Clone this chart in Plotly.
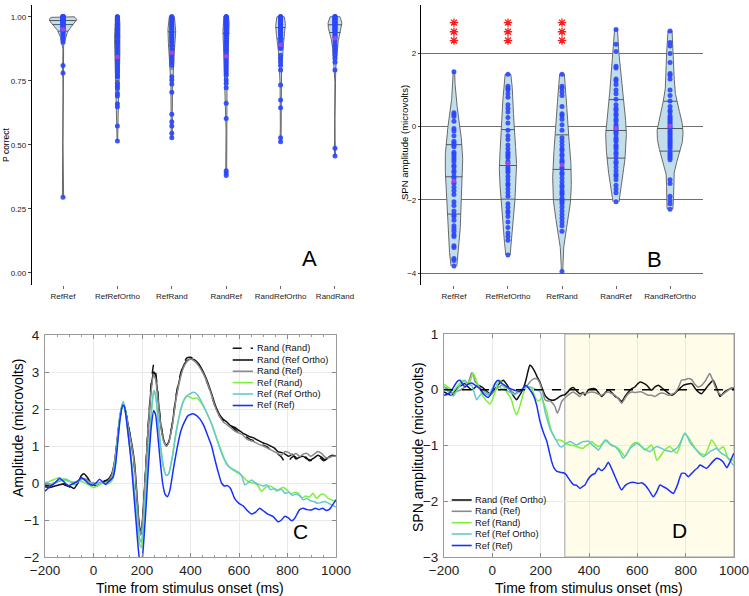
import numpy as np
import plotly.graph_objects as go

W, H = 749, 596
def px(x): return x / W
def py(y): return 1 - y / H

FONT = "Liberation Sans, Arial, sans-serif"

# ---------------- Panel A data (proportion correct) ----------------
CATS_A = ["RefRef", "RefRefOrtho", "RefRand", "RandRef", "RandRefOrtho", "RandRand"]
PC_REFREF = [1.0]*10 + [0.99]*8 + [0.98]*7 + [0.97]*5 + [0.96]*4 + [0.95]*3 + [0.94]*2 + [0.93]*2 + [0.92, 0.91, 0.90, 0.81, 0.78, 0.295]
PC_REFREFORTHO = [1.0, 1.0, 0.99, 0.99, 0.98, 0.97, 0.97, 0.96, 0.95, 0.95, 0.94, 0.93, 0.93, 0.92, 0.91, 0.90, 0.90, 0.89, 0.88, 0.87,
                  0.86, 0.85, 0.84, 0.83, 0.82, 0.81, 0.80, 0.79, 0.78, 0.77, 0.765, 0.74, 0.73, 0.72, 0.70, 0.69, 0.66, 0.648, 0.573, 0.515]
PC_REFRAND = [1.0, 1.0, 0.99, 0.99, 0.98, 0.98, 0.97, 0.97, 0.96, 0.96, 0.95, 0.95, 0.94, 0.94, 0.93, 0.93, 0.92, 0.92, 0.91, 0.91,
              0.90, 0.90, 0.89, 0.88, 0.87, 0.86, 0.85, 0.84, 0.83, 0.82, 0.81, 0.766, 0.753, 0.737, 0.705, 0.619, 0.59, 0.573, 0.545, 0.527]
PC_RANDREF = [1.0, 1.0, 1.0, 0.99, 0.99, 0.98, 0.98, 0.97, 0.97, 0.96, 0.96, 0.95, 0.95, 0.94, 0.94, 0.93, 0.93, 0.92, 0.91, 0.90,
              0.90, 0.89, 0.88, 0.87, 0.86, 0.85, 0.84, 0.83, 0.82, 0.81, 0.80, 0.79, 0.78, 0.772, 0.753, 0.74, 0.723, 0.662, 0.603,
              0.398, 0.39, 0.38]
PC_RANDREFORTHO = [1.0, 1.0, 1.0, 0.99, 0.99, 0.99, 0.98, 0.98, 0.98, 0.97, 0.97, 0.97, 0.96, 0.96, 0.96, 0.95, 0.95, 0.94, 0.94,
                   0.93, 0.93, 0.92, 0.91, 0.90, 0.89, 0.88, 0.876, 0.85, 0.837, 0.824, 0.811, 0.792, 0.733, 0.675, 0.645, 0.527, 0.512]
PC_RANDRAND = [1.0]*4 + [0.99]*4 + [0.98]*4 + [0.97]*4 + [0.96]*3 + [0.95]*3 + [0.94]*3 + [0.93, 0.93, 0.92, 0.92, 0.91, 0.90, 0.89,
               0.88, 0.87, 0.86, 0.85, 0.837, 0.822, 0.792, 0.486, 0.456]
GROUPS_A = [PC_REFREF, PC_REFREFORTHO, PC_REFRAND, PC_RANDREF, PC_RANDREFORTHO, PC_RANDRAND]
TICKS_A = [0.0, 0.25, 0.5, 0.75, 1.0]

# ---------------- Panel B data (SPN amplitude) ----------------
CATS_B = ["RefRef", "RefRefOrtho", "RefRand", "RandRef", "RandRefOrtho"]
SPN_REFREF = [1.5, 0.38, 0.33, 0.28, 0.15, -0.05, -0.12, -0.25, -0.4, -0.45, -0.5, -0.55, -0.7, -0.75, -0.82, -0.88, -0.95, -1.05,
              -1.1, -1.2, -1.25, -1.35, -1.4, -1.5, -1.55, -1.65, -1.75, -1.85, -2.05, -2.15, -2.3, -2.4, -2.45, -2.55, -2.7, -2.78,
              -2.85, -2.95, -3.0, -3.25, -3.3, -3.6, -3.65, -3.8]
SPN_REFREFORTHO = [1.43, 1.1, 1.05, 1.0, 0.9, 0.8, 0.6, 0.5, 0.4, 0.25, 0.1, -0.1, -0.25, -0.35, -0.5, -0.6, -0.7, -0.75, -0.8,
                   -0.85, -0.95, -1.0, -1.1, -1.15, -1.2, -1.25, -1.35, -1.45, -1.55, -1.6, -1.7, -1.8, -1.9, -2.1, -2.2, -2.3,
                   -2.35, -2.45, -2.6, -2.75, -2.9, -3.0, -3.1, -3.5]
SPN_REFRAND = [1.43, 1.1, 1.05, 0.95, 0.85, 0.55, 0.35, 0.3, 0.2, 0.05, -0.1, -0.3, -0.4, -0.5, -0.6, -0.65, -0.75, -0.8, -0.9,
               -0.95, -1.0, -1.1, -1.15, -1.25, -1.3, -1.4, -1.5, -1.6, -1.65, -1.75, -1.8, -1.85, -1.95, -2.0, -2.05, -2.1, -2.2,
               -2.3, -2.4, -2.5, -2.6, -2.7, -2.85, -3.95]
SPN_RANDREF = [2.65, 2.25, 2.05, 1.65, 1.6, 1.3, 1.25, 1.15, 1.0, 0.9, 0.75, 0.6, 0.5, 0.45, 0.35, 0.3, 0.2, 0.15, 0.05, 0.0, -0.05,
               -0.1, -0.15, -0.2, -0.3, -0.35, -0.4, -0.5, -0.55, -0.6, -0.7, -0.75, -0.85, -0.95, -1.0, -1.1, -1.2, -1.3, -1.35,
               -1.45, -1.6, -1.7, -1.8, -2.05]
SPN_RANDREFORTHO = [2.61, 2.3, 2.2, 2.0, 1.75, 1.45, 1.4, 1.3, 1.0, 0.85, 0.7, 0.55, 0.45, 0.4, 0.3, 0.25, 0.2, 0.15, 0.1, 0.05, 0.0,
                    -0.03, -0.1, -0.15, -0.2, -0.25, -0.3, -0.35, -0.4, -0.45, -0.5, -0.55, -0.6, -0.7, -0.75, -0.8, -0.85, -0.9,
                    -1.45, -1.55, -1.9, -2.0, -2.1, -2.25]
GROUPS_B = [SPN_REFREF, SPN_REFREFORTHO, SPN_REFRAND, SPN_RANDREF, SPN_RANDREFORTHO]
TICKS_B = [-4, -2, 0, 2]
STAR_CATS = [0, 1, 2]
STAR_Y = [2.35, 2.59, 2.84]

# ---------------- Panel C data (ERP waves) ----------------
C_RANDRAND_T = [-200, -180, -160, -140, -120, -100, -85, -70, -55, -45, -30, -15, 0, 15, 30, 45, 60, 75, 85, 95, 105, 115, 123, 132, 145, 158, 170, 180, 188, 195, 202, 212, 225, 238, 248, 256, 265, 275, 288, 300, 310, 325, 340, 355, 370, 385, 400, 415, 430, 445, 460, 475, 490, 505, 520, 535, 550, 565, 583, 600, 615, 630, 645, 660, 680, 700, 715, 730, 745, 760, 775, 790, 800, 815, 830, 845, 860, 875, 890, 905, 920, 935, 950, 965, 980, 1000]
C_RANDRAND_V = [-0.05, -0.08, -0.02, 0.0, -0.05, -0.1, -0.18, -0.05, 0.1, 0.22, 0.12, 0.0, -0.05, -0.05, 0.0, 0.05, 0.08, 0.2, 0.45, 0.95, 1.55, 2.0, 2.12, 1.95, 1.5, 1.0, 0.35, -0.5, -1.2, -1.4, -1.05, 0.0, 1.5, 2.7, 3.2, 3.0, 2.45, 1.75, 1.2, 1.0, 1.1, 1.6, 2.35, 2.85, 3.2, 3.38, 3.4, 3.35, 3.25, 3.08, 2.85, 2.6, 2.3, 2.0, 1.8, 1.7, 1.62, 1.55, 1.45, 1.35, 1.3, 1.25, 1.18, 1.15, 1.1, 1.02, 0.98, 0.9, 0.82, 0.78, 0.7, 0.55, 0.55, 0.68, 0.72, 0.62, 0.65, 0.7, 0.6, 0.62, 0.7, 0.68, 0.6, 0.68, 0.72, 0.72]
C_RANDORTHO_T = [-200, -180, -160, -140, -120, -100, -80, -65, -50, -40, -25, -10, 0, 15, 30, 45, 60, 75, 85, 95, 105, 115, 123, 132, 145, 158, 170, 180, 188, 195, 202, 212, 225, 238, 248, 256, 265, 275, 288, 300, 310, 325, 340, 355, 370, 385, 400, 415, 430, 445, 460, 475, 490, 505, 520, 535, 550, 565, 583, 600, 615, 630, 645, 660, 680, 700, 715, 730, 745, 760, 775, 790, 805, 820, 835, 850, 865, 880, 895, 910, 925, 940, 955, 970, 985, 1000]
C_RANDORTHO_V = [-0.1, -0.12, -0.08, -0.05, -0.02, -0.08, -0.15, 0.0, 0.2, 0.25, 0.15, 0.0, -0.05, -0.08, 0.0, 0.05, 0.1, 0.25, 0.5, 1.0, 1.6, 2.0, 2.1, 1.95, 1.5, 1.05, 0.5, -0.4, -1.1, -1.35, -1.0, 0.0, 1.4, 2.6, 3.0, 2.9, 2.4, 1.7, 1.2, 1.02, 1.1, 1.6, 2.3, 2.8, 3.15, 3.3, 3.35, 3.33, 3.25, 3.1, 2.9, 2.65, 2.35, 2.05, 1.85, 1.72, 1.65, 1.55, 1.5, 1.42, 1.35, 1.3, 1.25, 1.22, 1.15, 1.08, 1.05, 1.0, 0.95, 0.85, 0.82, 0.78, 0.72, 0.78, 0.65, 0.7, 0.72, 0.65, 0.62, 0.68, 0.75, 0.7, 0.62, 0.7, 0.75, 0.72]
C_RANDREF_T = [-200, -180, -160, -140, -120, -100, -80, -60, -45, -30, -15, 0, 15, 30, 45, 60, 75, 85, 95, 105, 115, 123, 132, 145, 158, 170, 180, 188, 195, 202, 212, 225, 238, 248, 256, 265, 275, 288, 300, 310, 325, 340, 355, 370, 385, 400, 415, 430, 445, 460, 475, 490, 505, 520, 535, 550, 565, 583, 600, 615, 630, 645, 660, 680, 700, 715, 730, 745, 760, 775, 790, 805, 820, 835, 850, 865, 880, 895, 910, 925, 940, 955, 970, 985, 1000]
C_RANDREF_V = [0.0, -0.05, 0.0, 0.05, 0.1, 0.05, 0.0, 0.05, 0.12, 0.1, 0.02, 0.0, -0.02, 0.02, 0.0, 0.05, 0.2, 0.5, 1.0, 1.6, 2.0, 2.12, 1.95, 1.45, 1.0, 0.4, -0.5, -1.2, -1.4, -1.05, 0.0, 1.4, 2.5, 2.92, 2.8, 2.3, 1.65, 1.15, 1.0, 1.08, 1.55, 2.25, 2.75, 3.1, 3.28, 3.35, 3.3, 3.2, 3.05, 2.85, 2.6, 2.3, 2.0, 1.8, 1.65, 1.58, 1.5, 1.4, 1.35, 1.3, 1.2, 1.15, 1.12, 1.05, 1.0, 0.95, 0.9, 0.85, 0.8, 0.75, 0.85, 0.82, 0.75, 0.8, 0.72, 0.78, 0.8, 0.72, 0.78, 0.85, 0.8, 0.7, 0.68, 0.72, 0.72]
C_REFRAND_T = [-200, -180, -160, -140, -120, -100, -80, -60, -40, -20, 0, 15, 30, 45, 60, 75, 85, 95, 105, 115, 123, 132, 145, 158, 170, 180, 190, 197, 205, 215, 228, 240, 248, 256, 265, 275, 288, 300, 310, 325, 340, 355, 370, 385, 395, 410, 425, 440, 455, 470, 487, 500, 514, 528, 542, 556, 570, 583, 600, 615, 630, 645, 660, 675, 693, 710, 725, 740, 755, 770, 785, 800, 815, 830, 845, 860, 875, 890, 905, 920, 935, 950, 965, 980, 1000]
C_REFRAND_V = [0.0, 0.05, 0.1, 0.15, 0.08, 0.05, 0.03, 0.05, 0.02, -0.05, -0.12, -0.08, -0.02, 0.0, -0.02, 0.05, 0.25, 0.8, 1.5, 2.0, 2.15, 1.9, 1.2, 0.5, -0.3, -1.1, -1.65, -1.75, -1.3, -0.3, 0.9, 2.0, 2.45, 2.35, 1.8, 1.1, 0.45, 0.2, 0.25, 0.7, 1.35, 1.85, 2.2, 2.35, 2.33, 2.28, 2.3, 2.2, 2.05, 1.85, 1.6, 1.35, 1.1, 0.85, 0.62, 0.47, 0.38, 0.32, 0.25, 0.18, 0.08, 0.02, 0.0, -0.05, -0.22, -0.12, -0.08, -0.12, -0.22, -0.15, -0.12, -0.2, -0.3, -0.25, -0.28, -0.4, -0.35, -0.38, -0.28, -0.42, -0.32, -0.3, -0.4, -0.45, -0.5]
C_REFORTHO_T = [-200, -180, -160, -145, -130, -110, -95, -80, -60, -45, -30, -15, 0, 15, 30, 45, 60, 75, 85, 95, 105, 115, 123, 132, 145, 158, 170, 180, 190, 197, 205, 215, 228, 240, 248, 256, 265, 275, 288, 300, 310, 325, 340, 355, 370, 385, 400, 415, 430, 445, 460, 475, 490, 505, 520, 535, 550, 565, 583, 600, 612, 624, 640, 652, 668, 685, 700, 715, 730, 745, 760, 775, 790, 805, 820, 835, 850, 865, 880, 895, 910, 925, 940, 955, 970, 985, 1000]
C_REFORTHO_V = [0.02, -0.02, 0.0, 0.05, 0.08, 0.1, 0.02, -0.05, 0.05, 0.1, 0.05, 0.0, -0.05, -0.02, 0.0, -0.02, 0.02, 0.1, 0.35, 0.9, 1.6, 2.05, 2.2, 1.95, 1.25, 0.5, -0.3, -1.0, -1.5, -1.6, -1.2, -0.2, 1.0, 2.05, 2.5, 2.4, 1.85, 1.1, 0.45, 0.2, 0.25, 0.7, 1.35, 1.85, 2.2, 2.35, 2.42, 2.45, 2.37, 2.2, 2.0, 1.78, 1.55, 1.25, 0.95, 0.7, 0.5, 0.4, 0.35, 0.28, 0.18, -0.05, 0.02, 0.08, 0.0, -0.05, -0.08, -0.05, -0.18, -0.15, -0.2, -0.17, -0.28, -0.25, -0.33, -0.3, -0.35, -0.45, -0.42, -0.48, -0.5, -0.55, -0.52, -0.5, -0.55, -0.6, -0.65]
C_REFREF_T = [-200, -180, -160, -140, -120, -105, -85, -65, -50, -35, -20, -5, 10, 25, 40, 50, 65, 80, 90, 100, 110, 120, 127, 135, 145, 155, 165, 175, 185, 193, 200, 208, 218, 228, 238, 248, 256, 265, 275, 285, 295, 305, 315, 330, 345, 360, 375, 390, 410, 425, 440, 455, 470, 487, 500, 514, 528, 540, 552, 565, 583, 600, 617, 635, 652, 670, 685, 700, 721, 740, 762, 775, 789, 805, 817, 830, 850, 865, 880, 899, 915, 930, 945, 960, 975, 990, 1000]
C_REFREF_V = [-0.22, -0.1, 0.0, 0.12, 0.02, -0.08, -0.02, 0.05, 0.14, 0.08, -0.02, -0.06, 0.0, 0.1, 0.02, -0.04, 0.05, 0.15, 0.45, 1.1, 1.75, 2.1, 2.08, 1.75, 1.2, 0.6, -0.2, -1.0, -1.8, -2.2, -2.1, -1.5, -0.5, 0.6, 1.5, 1.95, 1.85, 1.3, 0.6, 0.0, -0.3, -0.37, -0.2, 0.4, 0.95, 1.4, 1.65, 1.82, 1.87, 1.82, 1.72, 1.55, 1.3, 1.0, 0.65, 0.3, 0.0, -0.08, -0.07, -0.15, -0.43, -0.55, -0.62, -0.75, -0.84, -0.78, -0.68, -0.75, -0.85, -0.9, -1.05, -1.0, -0.9, -0.95, -1.02, -0.95, -0.72, -0.68, -0.72, -0.73, -0.68, -0.72, -0.68, -0.74, -0.7, -0.55, -0.45]

# ---------------- Panel D data (difference waves) ----------------
D_REFREF_T = [-200, -185, -175, -160, -145, -134, -120, -113, -100, -86, -70, -51, -35, -17, 0, 12, 24, 38, 52, 70, 86, 100, 114, 128, 139, 150, 162, 172, 183, 197, 210, 225, 235, 245, 255, 266, 280, 294, 305, 314, 325, 335, 350, 362, 372, 383, 397, 411, 425, 439, 452, 466, 480, 494, 508, 520, 535, 549, 563, 583, 604, 618, 632, 648, 666, 680, 694, 708, 721, 735, 749, 765, 783, 797, 811, 825, 838, 850, 859, 873, 887, 900, 914, 928, 942, 956, 970, 983, 997, 1000]
D_REFREF_V = [-0.1, -0.08, -0.05, 0.05, 0.15, 0.17, 0.08, 0.05, 0.1, 0.12, 0.08, 0.02, -0.08, -0.14, -0.02, 0.12, 0.17, 0.12, 0.08, 0.03, 0.0, -0.02, -0.03, 0.03, 0.08, 0.03, -0.04, -0.12, -0.27, -0.56, -0.75, -0.92, -1.1, -1.28, -1.4, -1.46, -1.48, -1.49, -1.52, -1.58, -1.65, -1.7, -1.72, -1.77, -1.74, -1.71, -1.6, -1.53, -1.5, -1.41, -1.45, -1.4, -1.3, -1.42, -1.56, -1.68, -1.8, -1.72, -1.68, -1.66, -1.68, -1.67, -1.71, -1.8, -1.92, -1.83, -1.71, -1.74, -1.77, -1.82, -1.86, -1.72, -1.5, -1.5, -1.56, -1.5, -1.44, -1.4, -1.35, -1.38, -1.41, -1.35, -1.28, -1.23, -1.25, -1.3, -1.4, -1.3, -1.16, -1.14]
D_REFRAND_T = [-200, -188, -175, -161, -148, -134, -120, -106, -93, -79, -65, -51, -38, -24, -10, 0, 11, 21, 31, 45, 59, 69, 79, 90, 100, 110, 121, 131, 142, 152, 162, 172, 183, 193, 204, 214, 225, 235, 245, 256, 266, 280, 294, 307, 321, 335, 349, 362, 376, 383, 397, 411, 425, 439, 452, 473, 487, 500, 521, 535, 549, 563, 577, 590, 604, 618, 632, 645, 659, 670, 680, 694, 708, 721, 735, 749, 763, 777, 790, 797, 808, 818, 835, 852, 866, 880, 893, 907, 921, 935, 945, 956, 966, 976, 990, 1000]
D_REFRAND_V = [0.1, 0.06, 0.02, -0.02, 0.05, 0.12, 0.17, 0.12, 0.15, 0.3, 0.15, 0.0, -0.12, -0.2, -0.26, -0.18, -0.04, 0.1, 0.17, 0.08, -0.04, -0.1, -0.18, -0.35, -0.45, -0.35, -0.18, -0.03, 0.05, 0.05, 0.03, -0.08, -0.18, -0.2, -0.15, -0.25, -0.39, -0.58, -0.75, -0.85, -0.9, -0.9, -0.93, -0.97, -0.99, -1.0, -1.02, -1.04, -1.05, -1.02, -0.98, -0.93, -0.98, -1.02, -0.98, -0.9, -0.97, -1.0, -1.05, -1.12, -1.2, -1.1, -0.99, -0.95, -0.96, -1.02, -1.08, -1.04, -0.99, -1.1, -1.26, -1.2, -1.11, -1.05, -1.02, -1.08, -1.14, -1.0, -0.82, -0.78, -0.84, -0.9, -1.02, -1.11, -1.15, -1.17, -1.05, -0.9, -0.98, -1.08, -1.05, -1.02, -1.12, -1.23, -1.25, -1.28]
D_REFORTHO_T = [-200, -185, -172, -161, -148, -134, -120, -113, -100, -86, -75, -65, -55, -44, -30, -17, -3, 11, 24, 38, 52, 66, 80, 93, 104, 114, 128, 142, 155, 169, 183, 197, 207, 218, 228, 238, 249, 259, 270, 280, 290, 300, 311, 321, 335, 349, 362, 376, 383, 397, 411, 425, 439, 452, 466, 480, 494, 508, 521, 532, 542, 556, 570, 584, 597, 611, 625, 638, 652, 666, 680, 694, 714, 728, 742, 756, 769, 783, 797, 808, 818, 838, 855, 873, 887, 900, 914, 928, 938, 949, 960, 970, 985, 997, 1000]
D_REFORTHO_V = [0.05, -0.02, -0.08, -0.11, -0.02, 0.08, 0.15, 0.17, 0.1, 0.08, -0.05, -0.18, -0.12, -0.07, -0.06, -0.1, 0.0, 0.11, 0.07, 0.02, 0.0, -0.03, -0.06, -0.09, -0.06, -0.03, 0.02, 0.05, 0.05, 0.03, 0.0, -0.03, -0.15, -0.39, -0.55, -0.69, -0.78, -0.87, -0.95, -1.02, -1.02, -0.98, -0.95, -0.93, -0.96, -0.99, -0.96, -0.93, -0.93, -0.92, -0.98, -1.03, -1.08, -1.0, -0.9, -0.95, -1.0, -1.02, -1.08, -1.16, -1.23, -1.15, -1.05, -1.0, -0.96, -1.0, -1.05, -1.08, -1.11, -1.06, -1.02, -1.04, -1.08, -1.1, -1.11, -1.07, -1.02, -0.9, -0.78, -0.85, -0.95, -1.05, -1.14, -1.2, -1.16, -1.11, -1.08, -1.05, -1.1, -1.14, -1.17, -1.2, -1.28, -1.35, -1.36]
D_RANDORTHO_T = [-200, -182, -168, -155, -141, -127, -113, -100, -86, -72, -58, -44, -30, -17, -10, 3, 17, 31, 45, 59, 73, 86, 100, 110, 121, 131, 139, 147, 155, 162, 176, 187, 197, 207, 218, 228, 238, 249, 259, 270, 280, 290, 300, 314, 324, 335, 349, 362, 376, 383, 397, 411, 425, 439, 452, 466, 480, 494, 508, 521, 535, 549, 563, 577, 590, 600, 611, 625, 639, 649, 659, 673, 687, 700, 714, 728, 742, 756, 769, 780, 790, 804, 825, 835, 845, 856, 866, 880, 890, 900, 914, 928, 942, 952, 963, 976, 990, 1000]
D_RANDORTHO_V = [-0.04, -0.08, -0.1, -0.03, 0.05, 0.08, 0.11, 0.05, 0.0, 0.04, 0.08, 0.05, 0.0, -0.05, -0.07, -0.02, 0.05, 0.12, 0.17, 0.1, 0.0, -0.1, -0.18, -0.12, -0.04, 0.06, 0.17, 0.32, 0.44, 0.42, 0.32, 0.22, 0.14, 0.02, -0.1, -0.15, -0.18, -0.19, -0.18, -0.15, -0.12, -0.1, -0.09, -0.03, 0.02, 0.04, -0.02, -0.07, -0.05, -0.1, 0.0, 0.02, 0.02, -0.05, -0.12, -0.06, 0.0, -0.05, -0.12, -0.15, -0.21, -0.12, -0.04, 0.02, 0.05, 0.1, 0.14, 0.12, 0.08, 0.03, -0.01, 0.05, 0.08, 0.04, -0.01, -0.06, -0.1, -0.06, -0.01, 0.04, 0.08, 0.1, 0.11, 0.05, -0.01, -0.05, -0.07, 0.0, 0.06, 0.11, 0.17, 0.03, -0.12, -0.08, -0.03, 0.0, 0.03, 0.02]
D_RANDREF_T = [-200, -185, -175, -160, -148, -134, -120, -106, -93, -86, -79, -72, -58, -44, -30, -17, -10, 3, 17, 31, 38, 52, 66, 80, 93, 107, 121, 135, 142, 152, 162, 176, 183, 190, 197, 207, 218, 228, 238, 249, 259, 265, 269, 278, 287, 297, 307, 321, 335, 349, 362, 376, 383, 397, 411, 425, 439, 452, 466, 480, 494, 508, 521, 535, 549, 563, 577, 590, 604, 618, 632, 645, 659, 673, 687, 700, 714, 728, 742, 756, 769, 783, 797, 811, 825, 838, 852, 866, 880, 893, 900, 914, 928, 938, 949, 960, 970, 985, 1000]
D_RANDREF_V = [0.05, 0.02, -0.04, -0.06, -0.03, -0.01, 0.03, 0.08, 0.2, 0.3, 0.28, 0.15, 0.08, 0.0, -0.03, -0.07, -0.1, -0.05, 0.01, 0.06, 0.08, 0.05, 0.02, -0.03, -0.07, -0.04, 0.0, 0.05, 0.06, 0.12, 0.17, 0.2, 0.2, 0.17, 0.11, -0.02, -0.18, -0.2, -0.2, -0.24, -0.3, -0.38, -0.42, -0.33, -0.21, -0.16, -0.12, -0.07, -0.04, -0.08, -0.12, -0.06, -0.07, -0.05, -0.04, -0.05, -0.08, -0.1, -0.06, -0.04, -0.07, -0.1, -0.16, -0.24, -0.15, -0.07, -0.04, -0.05, -0.04, -0.04, -0.07, -0.1, -0.1, -0.12, -0.08, -0.06, -0.07, -0.1, -0.08, -0.05, 0.03, 0.17, 0.18, 0.2, 0.18, 0.1, 0.05, 0.08, 0.15, 0.25, 0.29, 0.15, -0.01, -0.06, -0.1, -0.06, -0.03, 0.02, 0.04]
D_WINDOW = [300, 1000]

LEGEND_C = ["Rand (Rand)", "Rand (Ref Ortho)", "Rand (Ref)", "Ref (Rand)", "Ref (Ref Ortho)", "Ref (Ref)"]
LEGEND_D = ["Rand (Ref Ortho)", "Rand (Ref)", "Ref (Rand)", "Ref (Ref Ortho)", "Ref (Ref)"]

COL_BLACK = "#111111"
COL_GRAY = "#8a8a8a"
COL_GREEN = "#7ff03a"
COL_CYAN = "#62c9d2"
COL_BLUE = "#1630ff"

fig = go.Figure()

# ---------- violin helper ----------
def kde(vals):
    v = np.asarray(vals, float)
    n = len(v)
    sd = v.std(ddof=1)
    q75, q25 = np.percentile(v, [75, 25])
    iqr = q75 - q25
    lo = min(sd, iqr / 1.34) if iqr > 0 else sd
    bw = 0.9 * lo * n ** -0.2
    grid = np.linspace(v.min(), v.max(), 300)
    dens = np.exp(-0.5 * ((grid[:, None] - v[None, :]) / bw) ** 2).sum(1) / (n * bw * np.sqrt(2 * np.pi))
    return grid, dens

def add_violins(groups, xa, ya, half_max):
    shapes_ = [kde(g) for g in groups]
    dmax = max(d.max() for _, d in shapes_)
    for i, (g, (grid, dens)) in enumerate(zip(groups, shapes_)):
        hw = dens / dmax * half_max
        fig.add_trace(go.Scatter(
            x=np.concatenate([i + hw, (i - hw)[::-1]]),
            y=np.concatenate([grid, grid[::-1]]),
            fill="toself", fillcolor="#c3deeb", mode="lines",
            line=dict(color="#5a5a5a", width=0.9), xaxis=xa, yaxis=ya, hoverinfo="skip"))
        cdf = np.concatenate([[0], np.cumsum((dens[1:] + dens[:-1]) / 2 * np.diff(grid))])
        cdf /= cdf[-1]
        for q in np.interp([0.25, 0.5, 0.75], cdf, grid):
            w = np.interp(q, grid, hw)
            fig.add_trace(go.Scatter(x=[i - w, i + w], y=[q, q], mode="lines",
                                     line=dict(color="#4a4a4a", width=0.9), xaxis=xa, yaxis=ya, hoverinfo="skip"))
        fig.add_trace(go.Scatter(x=[i] * len(g), y=g, mode="markers",
                                 marker=dict(color="#2a46ff", size=5, opacity=0.9, line=dict(width=0)),
                                 xaxis=xa, yaxis=ya))
        fig.add_trace(go.Scatter(x=[i], y=[float(np.mean(g))], mode="markers",
                                 marker=dict(color="#a24ad8", size=4.5, line=dict(width=0)),
                                 xaxis=xa, yaxis=ya))

add_violins(GROUPS_A, "x", "y", 0.25)
add_violins(GROUPS_B, "x2", "y2", 0.24)

# significance stars
for c in STAR_CATS:
    fig.add_trace(go.Scatter(x=[c] * len(STAR_Y), y=STAR_Y, mode="markers",
                             marker=dict(symbol="asterisk-open", size=7, color="#ff1a1a", line=dict(color="#ff1a1a", width=1.3)),
                             xaxis="x2", yaxis="y2"))

# ---------- ERP traces ----------
def line(t, v, color, xa, ya, dash="solid", width=1.5):
    fig.add_trace(go.Scatter(x=t, y=v, mode="lines",
                             line=dict(color=color, width=width, dash=dash, shape="spline", smoothing=0.5),
                             xaxis=xa, yaxis=ya))

C_SERIES = [
    (C_RANDRAND_T, C_RANDRAND_V, COL_BLACK, "dash"),
    (C_RANDORTHO_T, C_RANDORTHO_V, COL_BLACK, "solid"),
    (C_RANDREF_T, C_RANDREF_V, COL_GRAY, "solid"),
    (C_REFRAND_T, C_REFRAND_V, COL_GREEN, "solid"),
    (C_REFORTHO_T, C_REFORTHO_V, COL_CYAN, "solid"),
    (C_REFREF_T, C_REFREF_V, COL_BLUE, "solid"),
]
for t, v, col, dash in C_SERIES:
    line(t, v, col, "x3", "y3", dash)

D_SERIES = [
    (D_RANDORTHO_T, D_RANDORTHO_V, COL_BLACK),
    (D_RANDREF_T, D_RANDREF_V, COL_GRAY),
    (D_REFRAND_T, D_REFRAND_V, COL_GREEN),
    (D_REFORTHO_T, D_REFORTHO_V, COL_CYAN),
    (D_REFREF_T, D_REFREF_V, COL_BLUE),
]
for t, v, col in D_SERIES:
    line(t, v, col, "x4", "y4")

shapes = []
annotations = []

# D analysis window and zero reference
shapes.append(dict(type="rect", xref="x4", yref="y4 domain", x0=D_WINDOW[0], x1=D_WINDOW[1], y0=0, y1=1,
                   fillcolor="#fffdea", line=dict(color="#a0a0a0", width=1), layer="below"))
shapes.append(dict(type="line", xref="x4 domain", yref="y4", x0=0, x1=1, y0=0, y1=0,
                   line=dict(color="black", width=1.5, dash="dash")))

# manual legends
def legend(labels, styles, x0, x1, ys, xt):
    for lab, (col, dash), yy in zip(labels, styles, ys):
        shapes.append(dict(type="line", xref="paper", yref="paper", x0=px(x0), x1=px(x1), y0=py(yy), y1=py(yy),
                           line=dict(color=col, width=1.6, dash=dash)))
        annotations.append(dict(text=lab, xref="paper", yref="paper", x=px(xt), y=py(yy), xanchor="left", yanchor="middle",
                                showarrow=False, font=dict(family=FONT, size=9.3, color="#111")))

legend(LEGEND_C, [(s[2], s[3]) for s in C_SERIES], 232.7, 253, [348.3, 360, 371.3, 382.6, 394, 405.5], 255)
legend(LEGEND_D, [(s[2], "solid") for s in D_SERIES], 451.7, 471.7, [500, 511.3, 522.7, 534, 545.5], 473.3)

# panel letters
for letter, (lx, ly), size in [("A", (309.5, 257), 22), ("B", (654.5, 258), 22), ("C", (300, 530), 21), ("D", (679, 529), 21)]:
    annotations.append(dict(text=letter, xref="paper", yref="paper", x=px(lx), y=py(ly + 1.5), xanchor="center", yanchor="middle",
                            showarrow=False, font=dict(family=FONT, size=size, color="black")))

# axis titles
def title(text, x, y, size, angle=0):
    annotations.append(dict(text=text, xref="paper", yref="paper", x=px(x), y=py(y), xanchor="center", yanchor="middle",
                            showarrow=False, textangle=angle, font=dict(family=FONT, size=size, color="black")))

title("P correct", 6, 145, 8.5, -90)
title("SPN amplitude (microvolts)", 405, 143, 9.5, -90)
title("Amplitude (microvolts)", 18, 428, 14, -90)
title("Time from stimulus onset (ms)", 190, 588, 14)
title("SPN amplitude (microvolts)", 418, 447, 14, -90)
title("Time from stimulus onset (ms)", 589, 588, 14)

small = dict(family=FONT, size=8, color="#222")
big = dict(family=FONT, size=13.5, color="#222")

erp_x = dict(range=[-200, 1000], tickvals=[-200, 0, 200, 400, 600, 800, 1000], showgrid=True, gridcolor="#e9e9e9",
             zeroline=False, showline=True, linecolor="#9a9a9a", linewidth=1, mirror="ticks", ticks="inside", ticklen=4,
             tickcolor="#8a8a8a", tickfont=big, automargin=False, ticklabelstandoff=1, ticklabeloverflow="allow")
erp_y = dict(showgrid=True, gridcolor="#e9e9e9", zeroline=False, showline=True, linecolor="#9a9a9a", linewidth=1,
             mirror="ticks", ticks="inside", ticklen=4, tickcolor="#8a8a8a", tickfont=big, dtick=1, automargin=False,
             ticklabelstandoff=2, ticklabeloverflow="allow")

fig.update_layout(
    template="none",
    width=W, height=H, margin=dict(l=0, r=0, t=0, b=0, pad=0), autosize=False,
    paper_bgcolor="white", plot_bgcolor="white", showlegend=False,
    xaxis=dict(domain=[px(32), px(360)], range=[-0.57, 5.46], tickvals=list(range(len(CATS_A))), ticktext=CATS_A,
               showgrid=False, zeroline=False, showline=False, ticks="outside", ticklen=3, tickcolor="#666", tickfont=small,
               automargin=False),
    yaxis=dict(domain=[py(285), py(5)], range=[-0.048, 1.046], tickvals=TICKS_A, tickformat=".2f", showgrid=False,
               zeroline=False, showline=True, linecolor="black", linewidth=1.3, ticks="outside", ticklen=3,
               tickcolor="#444", tickfont=small, automargin=False),
    xaxis2=dict(domain=[px(421), px(703)], range=[-0.61, 4.61], tickvals=list(range(len(CATS_B))), ticktext=CATS_B,
                showgrid=False, zeroline=False, showline=False, ticks="outside", ticklen=3, tickcolor="#666",
                tickfont=small, anchor="y2", automargin=False),
    yaxis2=dict(domain=[py(285), py(5)], range=[-4.32, 3.32], tickvals=TICKS_B, showgrid=True, gridcolor="#707070",
                gridwidth=1.2, zeroline=False, showline=True, linecolor="black", linewidth=1.3, ticks="outside",
                ticklen=2, tickcolor="#444", tickfont=small, anchor="x2", automargin=False),
    xaxis3=dict(domain=[px(45), px(336)], anchor="y3", minor=dict(dtick=50, ticks="inside", ticklen=2, tickcolor="#9a9a9a"),
                **erp_x),
    yaxis3=dict(domain=[py(557), py(335)], range=[-2, 4], anchor="x3", **erp_y),
    xaxis4=dict(domain=[px(444), px(734)], anchor="y4", **erp_x),
    yaxis4=dict(domain=[py(557), py(334)], range=[-3, 1], anchor="x4", **erp_y),
    shapes=shapes, annotations=annotations,
)

fig.write_html("out.html")
